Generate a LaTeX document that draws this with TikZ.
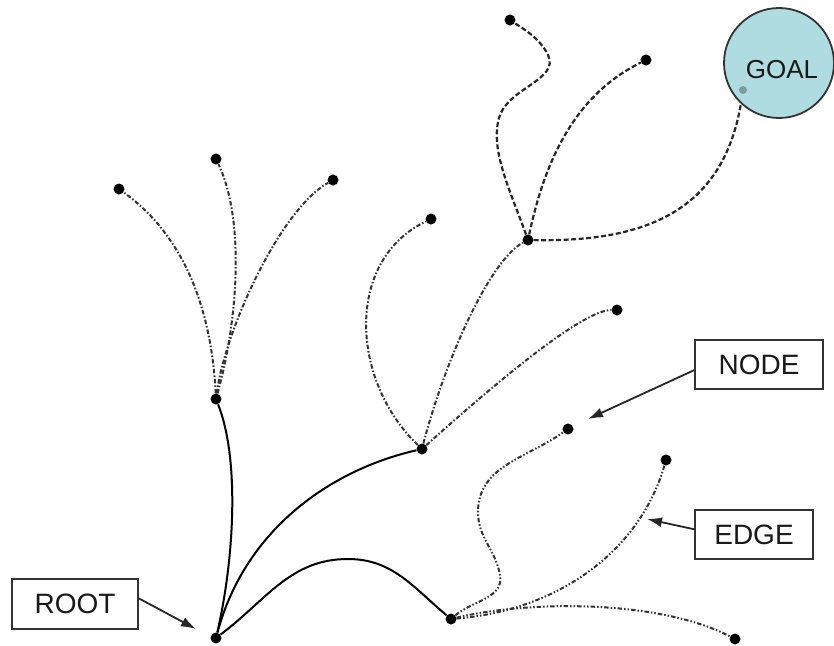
\documentclass[tikz,border=0pt]{standalone}
\usepackage{fontspec}
\setmainfont{Liberation Sans}
\usetikzlibrary{arrows.meta}
\definecolor{goalfill}{HTML}{AEDCE0}
\definecolor{goaldot}{HTML}{7E9CA0}
\definecolor{boxline}{HTML}{333333}
\begin{document}
\begin{tikzpicture}[x=1pt,y=-1pt,
  dot/.style={circle,fill=black,inner sep=0pt,minimum size=11pt},
  lbl/.style={draw=boxline,line width=1.8pt,fill=white,inner sep=0pt,font=\fontsize{28}{30}\selectfont,text=black!90},
  solidedge/.style={line width=2pt,black},
  dashdotedge/.style={line width=2pt,black!80,dash pattern=on 4.5pt off 2pt on 1.5pt off 2pt},
  dashdotdotedge/.style={line width=2pt,black!80,dash pattern=on 4.5pt off 2pt on 1.5pt off 2pt on 1.5pt off 2pt},
  dashededge/.style={line width=2.2pt,black!85,dash pattern=on 5pt off 2.5pt},
  labelarrow/.style={line width=1.8pt,black!85,-{Latex[length=15pt,width=10pt]}}]
\useasboundingbox (0,0) rectangle (834,645);

% goal circle
\node[circle,draw=boxline,line width=1.8pt,fill=goalfill,minimum size=110pt,inner sep=0pt] (goal) at (779,63) {};
\node[font=\fontsize{26}{28}\selectfont,text=black!90] (goaltxt) at (782,70) {GOAL};
\node[circle,fill=goaldot,inner sep=0pt,minimum size=8pt] (goalpt) at (743,90) {};

% nodes
\node[dot] (r) at (216,638) {};
\node[dot] (a) at (216,399) {};
\node[dot] (a1) at (119,189) {};
\node[dot] (a2) at (216,159) {};
\node[dot] (a3) at (333,180) {};
\node[dot] (b) at (422,449) {};
\node[dot] (b1) at (431,219) {};
\node[dot] (b2) at (528,240) {};
\node[dot] (b3) at (617,310) {};
\node[dot] (c1) at (510,20) {};
\node[dot] (c2) at (646,60) {};
\node[dot] (d) at (451,619) {};
\node[dot] (d1) at (568,429) {};
\node[dot] (d2) at (666,460) {};
\node[dot] (d3) at (735,639) {};

% solid edges from root
\draw[solidedge] (r) .. controls (234,560) and (240,460) .. (a);
\draw[solidedge] (r) .. controls (245,530) and (330,470) .. (b);
\coordinate (rdpeak) at (348,559);
\draw[solidedge] (r) to[out=37,in=180] (rdpeak) to[out=0,in=140] (d);

% A branch
\draw[dashdotedge] (a) .. controls (212,320) and (190,240) .. (a1);
\draw[dashdotedge] (a) .. controls (238,320) and (245,220) .. (a2);
\draw[dashdotedge] (a) .. controls (225,330) and (280,210) .. (a3);

% B branch
\draw[dashdotedge] (b) .. controls (350,380) and (345,260) .. (b1);
\draw[dashdotedge] (b) .. controls (445,360) and (490,260) .. (b2);
\draw[dashdotedge] (b) .. controls (510,370) and (585,310) .. (b3);

% B2 branch
\coordinate (c1m) at (499,118);
\draw[dashededge] (b2) .. controls (510,190) and (490,150) .. (c1m)
  .. controls (507,88) and (560,80) .. (548,55)
  .. controls (540,38) and (522,28) .. (c1);
\draw[dashededge] (b2) .. controls (545,160) and (575,95) .. (c2);
\draw[dashededge] (b2) .. controls (640,242) and (722,215) .. (goal.227);

% D branch
\coordinate (d1m1) at (500,575);
\coordinate (d1m2) at (478,512);
\draw[dashdotdotedge] (d) to[out=40,in=-80] (d1m1) to[out=100,in=-90] (d1m2) to[out=90,in=-145] (d1);
\draw[dashdotdotedge] (d) .. controls (560,610) and (640,550) .. (d2);
\draw[dashdotdotedge] (d) .. controls (530,600) and (660,600) .. (d3);

% labels
\node[lbl,minimum width=126pt,minimum height=50pt] (rootlbl) at (75,604) {ROOT};
\node[lbl,minimum width=128pt,minimum height=49pt] (nodelbl) at (759,364.5) {NODE};
\node[lbl,minimum width=118pt,minimum height=49pt] (edgelbl) at (754,534.5) {EDGE};

\coordinate (roottip) at (196,629);
\coordinate (nodetip) at (588,419);
\coordinate (edgetip) at (647,519);
\draw[labelarrow] (rootlbl.5) -- (roottip);
\draw[labelarrow] (nodelbl.185) -- (nodetip);
\draw[labelarrow] (edgelbl.175) -- (edgetip);
\end{tikzpicture}
\end{document}
